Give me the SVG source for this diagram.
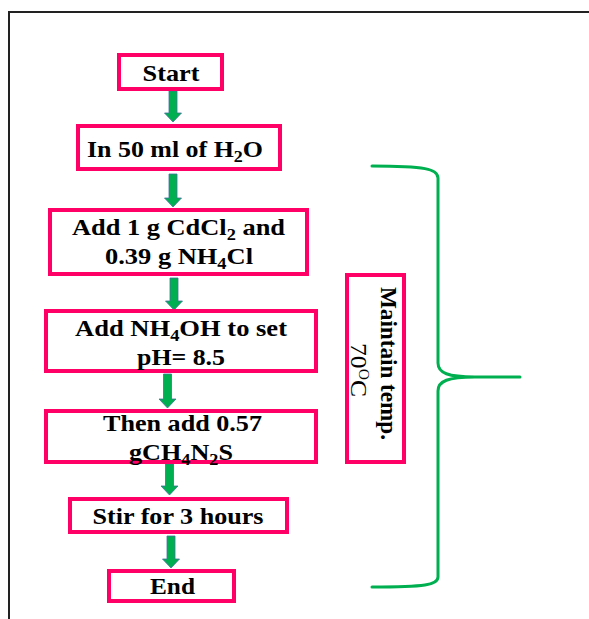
<svg xmlns="http://www.w3.org/2000/svg" width="589" height="619" viewBox="0 0 589 619">
<style>
.box{fill:#fff;stroke:#ff0066;stroke-width:4}
.t{font-family:"Liberation Serif","Times New Roman",serif;font-weight:bold;font-size:23px;fill:#000;text-anchor:middle}
.arr{fill:#00b050;stroke:#41719c;stroke-width:0.8}
.brace{fill:none;stroke:#00b050;stroke-width:3;stroke-linecap:round}
</style>
<rect width="589" height="619" fill="#fff"/>
<path d="M9,619 V12 H589" fill="none" stroke="#222" stroke-width="2"/>

<g id="connectors">
<polygon class="arr" points="169,91 177,91 177,113 181.5,113 173,122 164.5,113 169,113"/>
<polygon class="arr" points="169,174 177,174 177,198 181.5,198 173,207 164.5,198 169,198"/>
<polygon class="arr" points="170,278 178,278 178,301 182.5,301 174,310 165.5,301 170,301"/>
<polygon class="arr" points="163.5,374 171.5,374 171.5,399 176,399 167.5,408 159,399 163.5,399"/>
<polygon class="arr" points="165.5,464 173.5,464 173.5,486 178,486 169.5,495 161,486 165.5,486"/>
<polygon class="arr" points="167,536 175,536 175,559 179.5,559 171,568 162.5,559 167,559"/>
<path class="brace" d="M372,166 C425,166 438,169 438,178 V363 C438,373 448,377 475,377 H520 M475,377 C448,377 438,381 438,391 V577 C438,585 425,587 372,587"/>
</g>

<g id="start">
<rect class="box" x="119" y="55" width="103" height="34"/>
<text class="t" x="171" y="81" textLength="57" lengthAdjust="spacingAndGlyphs">Start</text>
</g>

<g id="water">
<rect class="box" x="78" y="126" width="202" height="43"/>
<text class="t" x="175" y="157" textLength="176" lengthAdjust="spacingAndGlyphs">In 50 ml of H<tspan dy="5" font-size="16">2</tspan><tspan dy="-5">O</tspan></text>
</g>

<g id="add-cdcl2">
<rect class="box" x="50" y="210" width="257" height="64"/>
<text class="t" x="178.5" y="235" textLength="213" lengthAdjust="spacingAndGlyphs">Add 1 g CdCl<tspan dy="5" font-size="16">2</tspan><tspan dy="-5"> and</tspan></text>
<text class="t" x="179" y="264" textLength="148" lengthAdjust="spacingAndGlyphs">0.39 g NH<tspan dy="5" font-size="16">4</tspan><tspan dy="-5">Cl</tspan></text>
</g>

<g id="add-nh4oh">
<rect class="box" x="46" y="311" width="270" height="60"/>
<text class="t" x="181" y="336" textLength="212" lengthAdjust="spacingAndGlyphs">Add NH<tspan dy="5" font-size="16">4</tspan><tspan dy="-5">OH to set</tspan></text>
<text class="t" x="181" y="365" textLength="88" lengthAdjust="spacingAndGlyphs">pH= 8.5</text>
</g>

<g id="add-thiourea">
<rect class="box" x="46" y="411" width="270" height="51"/>
<text class="t" x="182.5" y="431" textLength="159" lengthAdjust="spacingAndGlyphs">Then add 0.57</text>
<text class="t" x="181" y="460" textLength="104" lengthAdjust="spacingAndGlyphs">gCH<tspan dy="5" font-size="16">4</tspan><tspan dy="-5">N</tspan><tspan dy="5" font-size="16">2</tspan><tspan dy="-5">S</tspan></text>
</g>

<g id="stir">
<rect class="box" x="70" y="499" width="217" height="33"/>
<text class="t" x="178" y="524" textLength="171" lengthAdjust="spacingAndGlyphs">Stir for 3 hours</text>
</g>

<g id="end">
<rect class="box" x="109" y="571" width="125" height="30"/>
<text class="t" x="172.5" y="594" textLength="45" lengthAdjust="spacingAndGlyphs">End</text>
</g>

<g id="maintain">
<rect class="box" x="347" y="275" width="57" height="187"/>
<g transform="translate(381,363.5) rotate(90)">
<text class="t" x="0" y="0" font-size="24" textLength="153" lengthAdjust="spacingAndGlyphs">Maintain temp.</text>
</g>
<g transform="translate(351,370) rotate(90)">
<text class="t" x="0" y="0" font-size="24" style="font-weight:normal" textLength="54" lengthAdjust="spacingAndGlyphs">70<tspan dy="-8" font-size="14">O</tspan><tspan dy="8">C</tspan></text>
</g>
</g>
</svg>
